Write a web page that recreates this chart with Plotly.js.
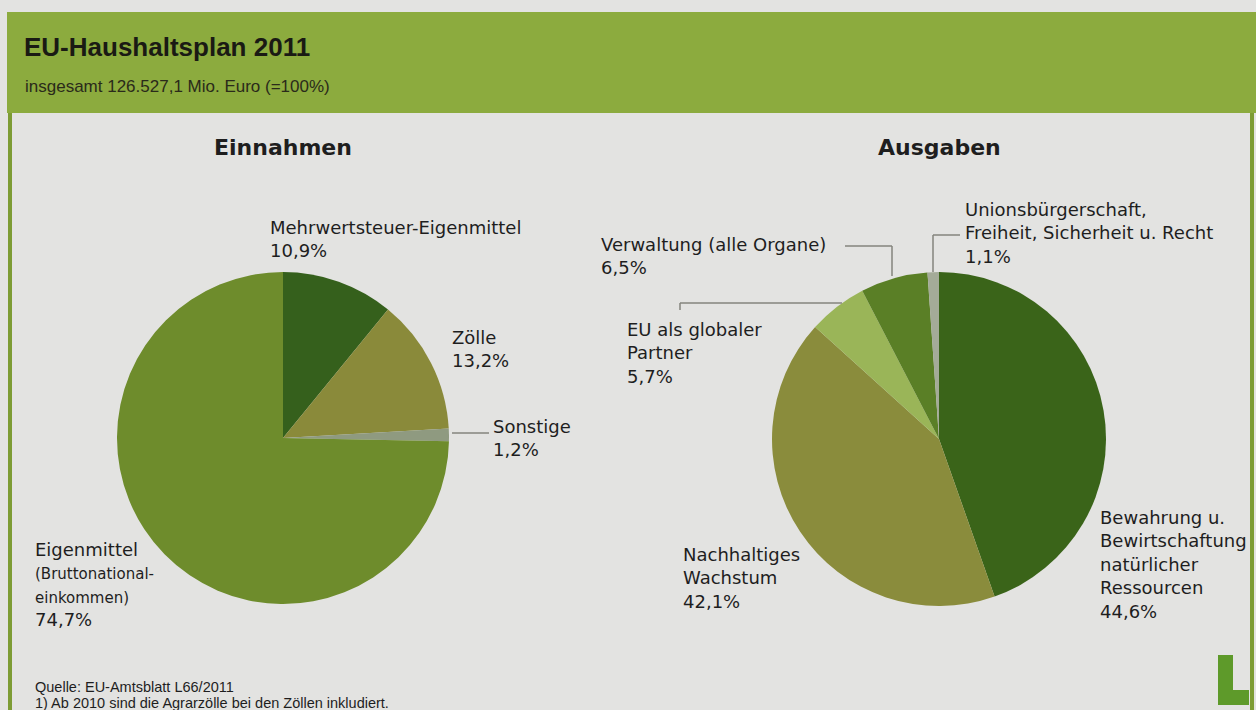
<!DOCTYPE html>
<html>
<head>
<meta charset="utf-8">
<script src="https://cdn.plot.ly/plotly-3.0.1.min.js"></script>
<style>html,body{margin:0;padding:0;background:#e3e3e1;}#chart{width:1256px;height:710px;}</style>
</head>
<body>
<div id="chart"></div>
<script>
// ---- data ----
const einnahmenLabels = ["Mehrwertsteuer-Eigenmittel", "Zölle", "Sonstige", "Eigenmittel (Bruttonationaleinkommen)"];
const einnahmenValues = [10.9, 13.2, 1.2, 74.7];
const einnahmenColors = ["#35601c", "#8a8a3a", "#8f9a80", "#6e8c2c"];

const ausgabenLabels = ["Bewahrung u. Bewirtschaftung natürlicher Ressourcen", "Nachhaltiges Wachstum", "EU als globaler Partner", "Verwaltung (alle Organe)", "Unionsbürgerschaft, Freiheit, Sicherheit u. Recht"];
const ausgabenValues = [44.6, 42.1, 5.7, 6.5, 1.1];
const ausgabenColors = ["#3a6419", "#8a8c3c", "#9ab558", "#5a7f26", "#a4ab98"];

const titleText = "EU-Haushaltsplan 2011";
const subtitleText = "insgesamt 126.527,1 Mio. Euro (=100%)";
const sourceText = "Quelle: EU-Amtsblatt L66/2011";
const noteText = "1) Ab 2010 sind die Agrarzölle bei den Zöllen inkludiert.";

function pct(v){ return v.toFixed(1).replace(".", ",") + "%"; }

// ---- layout helpers (pixel -> paper) ----
const W = 1256, H = 710;
const px = x => x / W;
const py = y => 1 - y / H;
const ARIAL = "Liberation Sans, Arial, sans-serif";
const WIDE = "DejaVu Sans, Liberation Sans, sans-serif";

const traces = [
  {type: "pie", labels: einnahmenLabels, values: einnahmenValues, sort: false, direction: "clockwise", rotation: 0,
   marker: {colors: einnahmenColors, line: {width: 0}}, textinfo: "none", hoverinfo: "label+percent",
   domain: {x: [px(283 - 166), px(283 + 166)], y: [py(438 + 166), py(438 - 166)]}, showlegend: false},
  {type: "pie", labels: ausgabenLabels, values: ausgabenValues, sort: false, direction: "clockwise", rotation: 0,
   marker: {colors: ausgabenColors, line: {width: 0}}, textinfo: "none", hoverinfo: "label+percent",
   domain: {x: [px(939 - 167), px(939 + 167)], y: [py(439 + 167), py(439 - 167)]}, showlegend: false}
];

function ann(x, y, text, size, family, opts) {
  return Object.assign({xref: "paper", yref: "paper", x: px(x), y: py(y), text: text, showarrow: false,
    xanchor: "left", yanchor: "top", align: "left", font: {family: family || WIDE, size: size, color: "#1e1e1e"}}, opts || {});
}

const annotations = [
  ann(22, 30, "<b>" + titleText + "</b>", 26, ARIAL, {font: {family: ARIAL, size: 26, color: "#1a1a14"}}),
  ann(23, 75, subtitleText, 17, ARIAL, {font: {family: ARIAL, size: 17, color: "#2a2a1a"}}),
  ann(283, 133, "<b>Einnahmen</b>", 22, WIDE, {xanchor: "center"}),
  ann(939, 133, "<b>Ausgaben</b>", 22, WIDE, {xanchor: "center"}),
  ann(268, 215, einnahmenLabels[0] + "<br>" + pct(einnahmenValues[0]), 18),
  ann(450, 325, einnahmenLabels[1] + "<br>" + pct(einnahmenValues[1]), 18),
  ann(491, 414, einnahmenLabels[2] + "<br>" + pct(einnahmenValues[2]), 18),
  ann(33, 537, "Eigenmittel<br><span style='font-size:15px'>(Bruttonational-<br>einkommen)</span><br>" + pct(einnahmenValues[3]), 18),
  ann(599, 232, "Verwaltung (alle Organe)<br>" + pct(ausgabenValues[3]), 18),
  ann(625, 317, "EU als globaler<br>Partner<br>" + pct(ausgabenValues[2]), 18),
  ann(963, 197, "Unionsbürgerschaft,<br>Freiheit, Sicherheit u. Recht<br>" + pct(ausgabenValues[4]), 18),
  ann(681, 542, "Nachhaltiges<br>Wachstum<br>" + pct(ausgabenValues[1]), 18),
  ann(1098, 505, "Bewahrung u.<br>Bewirtschaftung<br>natürlicher<br>Ressourcen<br>" + pct(ausgabenValues[0]), 18),
  ann(33, 677, sourceText, 14.5, ARIAL),
  ann(33, 693, noteText, 14.5, ARIAL)
];

function line(x0, y0, x1, y1, color, width) {
  return {type: "line", xref: "paper", yref: "paper", x0: px(x0), y0: py(y0), x1: px(x1), y1: py(y1),
    line: {color: color || "#85857c", width: width || 1.5}};
}
function rect(x0, y0, x1, y1, color) {
  return {type: "rect", xref: "paper", yref: "paper", x0: px(x0), y0: py(y0), x1: px(x1), y1: py(y1),
    fillcolor: color, line: {width: 0}, layer: "below"};
}

const shapes = [
  rect(7, 12, 1256, 113, "#8cab3e"),
  rect(8, 113, 12, 710, "#7d9c34"),
  rect(1250, 113, 1254, 710, "#7d9c34"),
  // leader lines
  line(452, 433, 489, 433),
  line(845, 246, 892, 246),
  line(892, 246, 892, 276),
  line(680, 303, 842, 303),
  line(680, 303, 680, 310),
  line(933, 235, 960, 235),
  line(933, 235, 933, 272),
  // logo L
  rect(1218, 655, 1233, 705, "#5e9a2a"),
  rect(1218, 690, 1249, 705, "#5e9a2a")
];
shapes.slice(-2).forEach(s => s.layer = "above");

const layout = {
  width: W, height: H, margin: {l: 0, r: 0, t: 0, b: 0},
  paper_bgcolor: "#e3e3e1", plot_bgcolor: "#e3e3e1",
  showlegend: false, annotations: annotations, shapes: shapes
};

Plotly.newPlot("chart", traces, layout, {displayModeBar: false, staticPlot: true});
</script>
</body>
</html>
